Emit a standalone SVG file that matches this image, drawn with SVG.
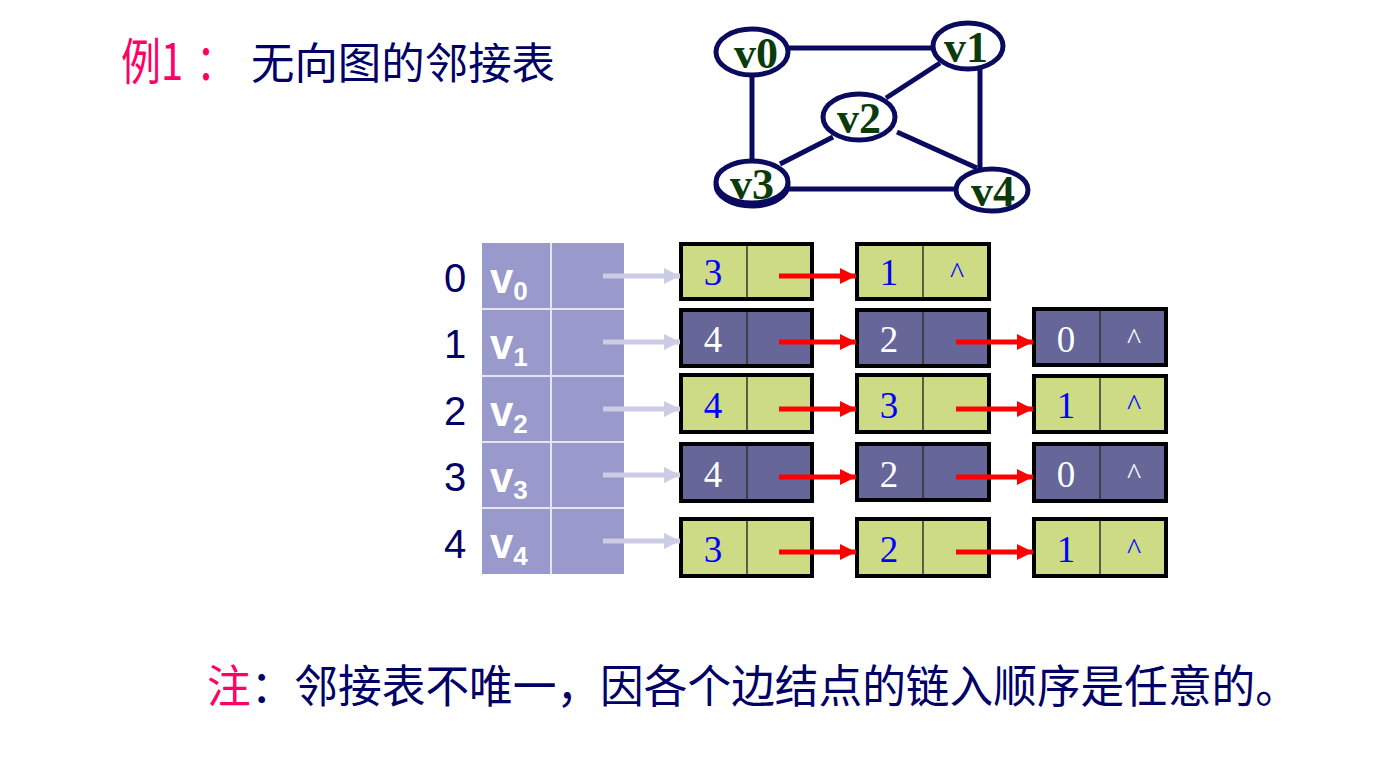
<svg xmlns="http://www.w3.org/2000/svg" width="1385" height="771" viewBox="0 0 1385 771">
<defs>
<style>
.cjk{font-family:"Noto Sans CJK SC","Noto Sans",sans-serif;}
.idx{font-family:"Liberation Sans",Arial,sans-serif;font-size:40px;fill:#000066;text-anchor:middle;}
.vl{font-family:"Liberation Sans",Arial,sans-serif;font-weight:bold;fill:#ffffff;}
.num{font-family:"Liberation Serif","Times New Roman",serif;font-size:37px;text-anchor:middle;}
.car{font-family:"Liberation Serif","Times New Roman",serif;font-size:30px;text-anchor:middle;}
.g .box{fill:#CDDB85;}
.p .box{fill:#666699;}
.g text{fill:#0000FF;}
.p text{fill:#ffffff;}
.frame{fill:none;stroke:#000000;stroke-width:4;}
.div{stroke:#333333;stroke-width:1.5;}
.gedge{stroke:#0A0A5E;stroke-width:5;fill:none;}
.gnode{fill:#ffffff;stroke:#0A0A5E;stroke-width:5;}
.gtxt{font-family:"Liberation Serif","Times New Roman",serif;font-weight:bold;font-size:44px;fill:#0B3B0B;text-anchor:middle;}
.red{stroke:#FF0000;stroke-width:5;}
.lite{stroke:#CCCCE6;stroke-width:5;}
</style>
<marker id="ra" markerWidth="16" markerHeight="16" viewBox="0 0 16 16" refX="16" refY="8" orient="auto" markerUnits="userSpaceOnUse">
<path d="M0,0 L16,8 L0,16 z" fill="#FF0000"/>
</marker>
<marker id="la" markerWidth="16" markerHeight="16" viewBox="0 0 16 16" refX="16" refY="8" orient="auto" markerUnits="userSpaceOnUse">
<path d="M0,0 L16,8 L0,16 z" fill="#CCCCE6"/>
</marker>
</defs>
<rect width="1385" height="771" fill="#ffffff"/>

<!-- title -->
<text class="cjk" font-size="50" fill="#FF0066" transform="translate(121,80) scale(0.8,1)">例1<tspan dx="16">：</tspan></text>
<text class="cjk" x="251" y="79" font-size="43" fill="#000066" textLength="304" lengthAdjust="spacingAndGlyphs">无向图的邻接表</text>

<!-- graph edges -->
<g id="graph-edges">
<line class="gedge" x1="789" y1="48" x2="932" y2="48"/>
<line class="gedge" x1="752" y1="75" x2="752" y2="162"/>
<line class="gedge" x1="980" y1="69" x2="980" y2="172"/>
<line class="gedge" x1="940" y1="63" x2="886" y2="98"/>
<line class="gedge" x1="833" y1="137" x2="780" y2="164"/>
<line class="gedge" x1="897" y1="132" x2="977" y2="168"/>
<line class="gedge" x1="789" y1="189" x2="956" y2="189"/>
</g>
<g id="gv0"><ellipse class="gnode" cx="752" cy="52" rx="36" ry="23"/><text class="gtxt" x="756" y="68">v0</text></g>
<g id="gv1"><ellipse class="gnode" cx="968" cy="46" rx="35" ry="23"/><text class="gtxt" x="966" y="62">v1</text></g>
<g id="gv2"><ellipse class="gnode" cx="859" cy="117" rx="36" ry="23"/><text class="gtxt" x="859" y="133">v2</text></g>
<g id="gv3"><ellipse class="gnode" cx="752" cy="185" rx="36" ry="21"/><ellipse class="gnode" cx="752" cy="182" rx="36" ry="21"/><text class="gtxt" x="752" y="199">v3</text></g>
<g id="gv4"><ellipse class="gnode" cx="992" cy="190" rx="36" ry="21"/><text class="gtxt" x="993" y="206">v4</text></g>

<!-- vertex table -->
<g id="vertex-table">
<rect x="482" y="243" width="142" height="331" fill="#9999CC"/>
<g stroke="#E6E6F2" stroke-width="2">
<line x1="551" y1="243" x2="551" y2="574"/>
<line x1="482" y1="309" x2="624" y2="309"/>
<line x1="482" y1="376" x2="624" y2="376"/>
<line x1="482" y1="442" x2="624" y2="442"/>
<line x1="482" y1="508" x2="624" y2="508"/>
</g>
<text class="idx" x="455" y="292">0</text>
<text class="idx" x="455" y="358">1</text>
<text class="idx" x="455" y="425">2</text>
<text class="idx" x="455" y="491">3</text>
<text class="idx" x="455" y="558">4</text>
<text class="vl" x="490" y="293" font-size="42">v<tspan font-size="26" y="300">0</tspan></text>
<text class="vl" x="490" y="359" font-size="42">v<tspan font-size="26" y="366">1</tspan></text>
<text class="vl" x="490" y="426" font-size="42">v<tspan font-size="26" y="433">2</tspan></text>
<text class="vl" x="490" y="492" font-size="42">v<tspan font-size="26" y="499">3</tspan></text>
<text class="vl" x="490" y="558" font-size="42">v<tspan font-size="26" y="565">4</tspan></text>
</g>

<!-- row 0 -->
<g id="n0a" class="g"><rect class="box" x="679" y="242" width="135" height="59"/><line class="div" x1="747" y1="242" x2="747" y2="301"/><rect class="frame" x="681" y="244" width="131" height="55"/><text class="num" x="713" y="285">3</text></g>
<g id="n0b" class="g"><rect class="box" x="855" y="242" width="136" height="59"/><line class="div" x1="923" y1="242" x2="923" y2="301"/><rect class="frame" x="857" y="244" width="132" height="55"/><text class="num" x="889" y="285">1</text><text class="car" x="957" y="283">^</text></g>

<!-- row 1 -->
<g id="n1a" class="p"><rect class="box" x="679" y="308" width="135" height="60"/><line class="div" x1="747" y1="308" x2="747" y2="368"/><rect class="frame" x="681" y="310" width="131" height="56"/><text class="num" x="713" y="352">4</text></g>
<g id="n1b" class="p"><rect class="box" x="855" y="308" width="136" height="60"/><line class="div" x1="923" y1="308" x2="923" y2="368"/><rect class="frame" x="857" y="310" width="132" height="56"/><text class="num" x="889" y="352">2</text></g>
<g id="n1c" class="p"><rect class="box" x="1032" y="307" width="136" height="60"/><line class="div" x1="1100" y1="307" x2="1100" y2="367"/><rect class="frame" x="1034" y="309" width="132" height="56"/><text class="num" x="1066" y="352">0</text><text class="car" x="1134" y="349">^</text></g>

<!-- row 2 -->
<g id="n2a" class="g"><rect class="box" x="679" y="373" width="135" height="61"/><line class="div" x1="747" y1="373" x2="747" y2="434"/><rect class="frame" x="681" y="375" width="131" height="57"/><text class="num" x="713" y="418">4</text></g>
<g id="n2b" class="g"><rect class="box" x="855" y="373" width="136" height="61"/><line class="div" x1="923" y1="373" x2="923" y2="434"/><rect class="frame" x="857" y="375" width="132" height="57"/><text class="num" x="889" y="418">3</text></g>
<g id="n2c" class="g"><rect class="box" x="1032" y="374" width="136" height="60"/><line class="div" x1="1100" y1="374" x2="1100" y2="434"/><rect class="frame" x="1034" y="376" width="132" height="56"/><text class="num" x="1066" y="418">1</text><text class="car" x="1134" y="415">^</text></g>

<!-- row 3 -->
<g id="n3a" class="p"><rect class="box" x="679" y="442" width="135" height="61"/><line class="div" x1="747" y1="442" x2="747" y2="503"/><rect class="frame" x="681" y="444" width="131" height="57"/><text class="num" x="713" y="487">4</text></g>
<g id="n3b" class="p"><rect class="box" x="855" y="442" width="136" height="60"/><line class="div" x1="923" y1="442" x2="923" y2="502"/><rect class="frame" x="857" y="444" width="132" height="56"/><text class="num" x="889" y="487">2</text></g>
<g id="n3c" class="p"><rect class="box" x="1032" y="442" width="136" height="61"/><line class="div" x1="1100" y1="442" x2="1100" y2="503"/><rect class="frame" x="1034" y="444" width="132" height="57"/><text class="num" x="1066" y="487">0</text><text class="car" x="1134" y="484">^</text></g>

<!-- row 4 -->
<g id="n4a" class="g"><rect class="box" x="679" y="517" width="135" height="61"/><line class="div" x1="747" y1="517" x2="747" y2="578"/><rect class="frame" x="681" y="519" width="131" height="57"/><text class="num" x="713" y="562">3</text></g>
<g id="n4b" class="g"><rect class="box" x="855" y="517" width="136" height="61"/><line class="div" x1="923" y1="517" x2="923" y2="578"/><rect class="frame" x="857" y="519" width="132" height="57"/><text class="num" x="889" y="562">2</text></g>
<g id="n4c" class="g"><rect class="box" x="1032" y="517" width="136" height="61"/><line class="div" x1="1100" y1="517" x2="1100" y2="578"/><rect class="frame" x="1034" y="519" width="132" height="57"/><text class="num" x="1066" y="562">1</text><text class="car" x="1134" y="559">^</text></g>

<!-- connectors -->
<g id="connectors">
<line class="lite" x1="603" y1="276" x2="680" y2="276" marker-end="url(#la)"/>
<line class="lite" x1="603" y1="342" x2="680" y2="342" marker-end="url(#la)"/>
<line class="lite" x1="603" y1="409" x2="680" y2="409" marker-end="url(#la)"/>
<line class="lite" x1="603" y1="475" x2="680" y2="475" marker-end="url(#la)"/>
<line class="lite" x1="603" y1="541" x2="680" y2="541" marker-end="url(#la)"/>
<line class="red" x1="779" y1="276" x2="856" y2="276" marker-end="url(#ra)"/>
<line class="red" x1="779" y1="342" x2="856" y2="342" marker-end="url(#ra)"/>
<line class="red" x1="779" y1="409" x2="856" y2="409" marker-end="url(#ra)"/>
<line class="red" x1="779" y1="477" x2="856" y2="477" marker-end="url(#ra)"/>
<line class="red" x1="779" y1="552" x2="856" y2="552" marker-end="url(#ra)"/>
<line class="red" x1="956" y1="342" x2="1033" y2="342" marker-end="url(#ra)"/>
<line class="red" x1="956" y1="409" x2="1033" y2="409" marker-end="url(#ra)"/>
<line class="red" x1="956" y1="477" x2="1033" y2="477" marker-end="url(#ra)"/>
<line class="red" x1="956" y1="552" x2="1033" y2="552" marker-end="url(#ra)"/>
</g>

<!-- note -->
<text class="cjk" x="207" y="703" font-size="45" fill="#000066" textLength="1092" lengthAdjust="spacingAndGlyphs"><tspan fill="#FF0066">注</tspan>：邻接表不唯一，因各个边结点的链入顺序是任意的。</text>
</svg>
